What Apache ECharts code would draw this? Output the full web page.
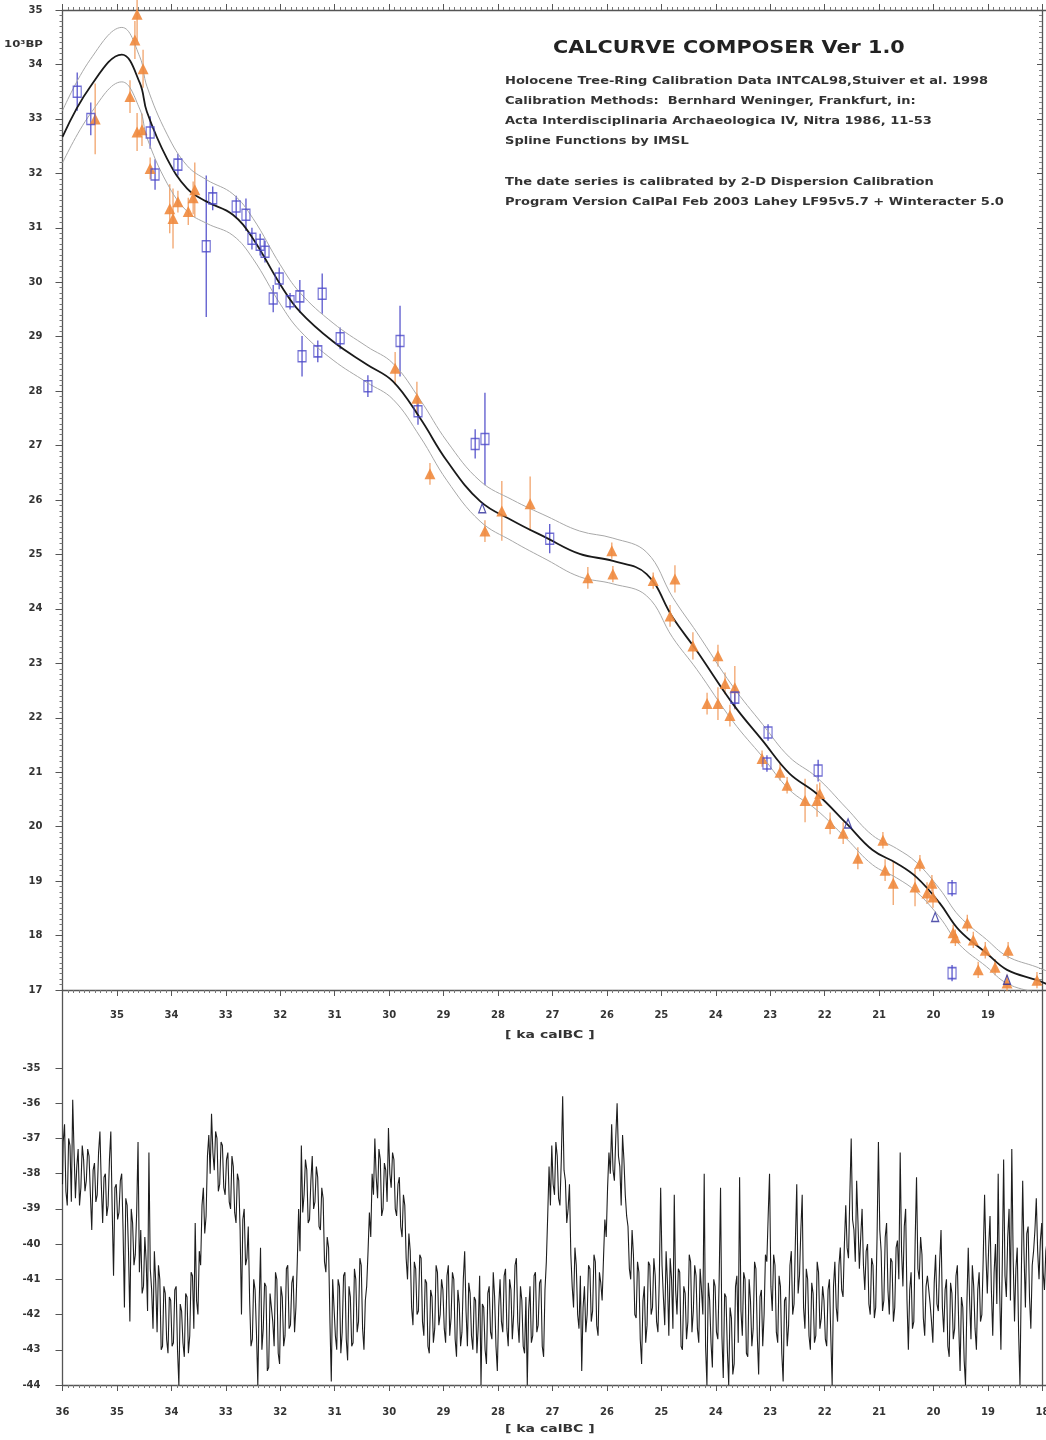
<!DOCTYPE html>
<html>
<head>
<meta charset="utf-8">
<title>CalCurve Composer</title>
<script src="https://cdn.jsdelivr.net/npm/echarts@6/dist/echarts.min.js"></script>
<style>
  html, body { margin: 0; padding: 0; background: #fff; }
  #chart { width: 1046px; height: 1440px; }
</style>
</head>
<body>
<div id="chart"></div>
<script>
// calibration curve, ka calBC -> 10^3 BP, with 1-sigma half width
const curveX = [36.0, 35.49, 34.91, 34.58, 34.45, 34.08, 33.71, 33.35, 32.87, 32.50, 32.00, 31.64, 31.03, 30.41, 29.93, 29.43, 28.94, 28.33, 27.73, 27.10,
  26.50, 25.89, 25.27, 24.79, 24.35, 23.69, 23.14, 22.65, 22.15, 21.60, 21.12, 20.68, 20.31, 19.89, 19.53, 19.03, 18.65, 18.10, 17.90]
const curveY = [32.67, 33.59, 34.18, 33.66, 33.13, 32.27, 31.72, 31.48, 31.24, 30.80, 29.96, 29.46, 28.91, 28.49, 28.18, 27.50, 26.72, 25.98, 25.62, 25.30,
  25.01, 24.88, 24.64, 23.84, 23.23, 22.26, 21.58, 20.98, 20.61, 20.06, 19.57, 19.33, 19.07, 18.60, 18.10, 17.68, 17.37, 17.18, 17.10]
const curveSig = [0.48, 0.50, 0.50, 0.48, 0.47, 0.45, 0.42, 0.40, 0.38, 0.37, 0.36, 0.35, 0.34, 0.33, 0.33, 0.34, 0.36, 0.37, 0.38, 0.40,
  0.42, 0.42, 0.40, 0.37, 0.34, 0.32, 0.30, 0.30, 0.30, 0.28, 0.27, 0.27, 0.27, 0.26, 0.26, 0.25, 0.25, 0.24, 0.24]

// dates shown as open squares
const blueX = [35.73, 35.48, 34.39, 34.30, 33.88, 33.24, 33.36, 32.81, 32.63, 32.52, 32.37, 32.28, 32.13, 32.02, 31.82, 31.64,
  31.60, 31.31, 31.23, 30.90, 30.39, 29.80, 29.47, 28.42, 28.24, 27.05, 23.65, 23.04, 23.06, 22.12, 19.66, 19.66]
const blueY = [33.50, 33.00, 32.75, 31.98, 32.16, 31.54, 30.66, 31.39, 31.24, 30.80, 30.69, 30.56, 29.70, 30.07, 29.65, 29.74,
  28.64, 28.73, 29.79, 28.97, 28.09, 28.92, 27.63, 27.03, 27.12, 25.29, 22.37, 21.73, 21.16, 21.03, 18.87, 17.31]
const blueErr = [0.35, 0.30, 0.30, 0.28, 0.20, 0.22, 1.30, 0.20, 0.30, 0.20, 0.20, 0.20, 0.25, 0.20, 0.15, 0.30,
  0.37, 0.20, 0.37, 0.20, 0.20, 0.65, 0.25, 0.27, 0.85, 0.27, 0.20, 0.15, 0.15, 0.20, 0.15, 0.15]

// dates shown as filled triangles
const orangeX = [35.40, 34.63, 34.67, 34.52, 34.76, 34.63, 34.54, 34.39, 34.03, 33.97, 33.88, 33.69, 33.57, 33.60,
  29.89, 29.49, 29.25, 28.24, 27.93, 27.41, 25.91, 26.35, 25.89, 25.15, 24.75, 24.84, 24.42, 23.96, 24.16, 23.96,
  23.83, 23.65, 23.74, 23.15, 22.82, 22.69, 22.36, 22.14, 22.09, 21.90, 21.66, 21.39, 20.93, 20.89, 20.74, 20.34,
  20.25, 20.12, 20.03, 20.01, 19.64, 19.60, 19.38, 19.27, 19.18, 19.05, 18.87, 18.63, 18.65, 18.10]
const orangeY = [33.00, 34.92, 34.45, 33.92, 33.41, 32.76, 32.80, 32.09, 31.35, 31.17, 31.48, 31.30, 31.70, 31.55,
  28.42, 27.87, 26.48, 25.43, 25.80, 25.93, 25.07, 24.57, 24.64, 24.52, 24.55, 23.87, 23.32, 23.14, 22.26, 22.26,
  22.63, 22.55, 22.04, 21.25, 21.00, 20.76, 20.48, 20.48, 20.61, 20.06, 19.88, 19.42, 19.75, 19.20, 18.96, 18.89,
  19.33, 18.78, 18.96, 18.71, 18.05, 17.96, 18.23, 17.92, 17.37, 17.73, 17.42, 17.73, 17.13, 17.18]
const orangeErr = [0.65, 0.50, 0.35, 0.35, 0.30, 0.35, 0.30, 0.20, 0.45, 0.55, 0.20, 0.25, 0.50, 0.30,
  0.30, 0.30, 0.20, 0.20, 0.55, 0.50, 0.15, 0.20, 0.15, 0.15, 0.25, 0.20, 0.25, 0.20, 0.20, 0.30,
  0.20, 0.40, 0.20, 0.15, 0.15, 0.15, 0.40, 0.30, 0.20, 0.20, 0.20, 0.20, 0.15, 0.20, 0.40, 0.35,
  0.15, 0.20, 0.15, 0.20, 0.15, 0.15, 0.15, 0.15, 0.15, 0.15, 0.15, 0.15, 0.15, 0.15]

// small open triangles
const markX = [28.29, 21.57, 19.97, 18.65]
const markY = [25.85, 20.06, 18.34, 17.19]

// lower panel: isotope record, one value every 0.025 ka from 36.000 ka (one row per ka)
const isoStart = 36
const isoStep = 0.025
const isoVals = [
  -38.3, -37.1, -36.6, -38.5, -38.9, -37.0, -37.2, -38.8, -35.9, -37.4, -38.7, -37.8, -37.3, -38.9, -38.4, -37.2, -37.6, -38.5, -38.2, -37.3,
  -37.5, -38.6, -39.6, -37.9, -37.7, -38.8, -38.6, -37.4, -36.8, -38.3, -39.4, -38.1, -38.0, -39.2, -38.9, -37.6, -36.8, -39.0, -40.9, -38.4,
  -38.3, -39.3, -39.1, -38.2, -38.0, -39.6, -41.8, -38.7, -38.9, -40.2, -42.2, -39.0, -39.4, -40.6, -40.3, -39.1, -37.1, -40.8, -39.6, -41.4,
  -41.2, -39.8, -40.5, -41.9, -37.4, -40.7, -41.3, -42.4, -40.2, -41.1, -42.5, -40.6, -41.0, -43.0, -42.9, -41.2, -41.4, -42.7, -43.1, -41.5,
  -41.6, -42.9, -42.8, -41.3, -41.2, -43.0, -44.0, -41.7, -41.9, -42.8, -43.2, -41.4, -41.5, -43.1, -42.6, -40.8, -40.9, -42.4, -39.4, -41.6,
  -42.0, -40.2, -40.6, -38.9, -38.4, -39.7, -39.2, -37.5, -36.9, -38.0, -36.3, -37.4, -37.9, -36.8, -37.0, -38.5, -38.3, -37.1, -37.2, -38.4,
  -38.6, -37.6, -37.4, -38.8, -39.0, -37.5, -37.8, -39.1, -39.4, -38.0, -38.2, -39.6, -42.0, -39.3, -39.0, -40.6, -40.4, -39.5, -41.6, -42.9,
  -42.7, -41.0, -41.3, -42.5, -44.0, -41.7, -40.1, -43.0, -42.4, -41.1, -41.2, -43.6, -43.5, -41.4, -41.8, -42.2, -42.9, -40.8, -41.0, -43.1,
  -43.4, -41.2, -41.5, -42.9, -42.6, -40.7, -40.6, -42.4, -42.3, -41.1, -40.9, -42.5, -41.8, -40.5, -39.0, -40.2, -37.2, -39.1, -38.6, -37.6,
  -37.9, -39.4, -39.3, -38.2, -37.5, -39.0, -38.8, -37.8, -38.1, -39.5, -39.6, -38.4, -38.7, -40.5, -40.8, -39.8, -40.1, -42.2, -43.9, -41.0,
  -41.8, -42.6, -43.0, -41.0, -41.2, -43.1, -42.5, -40.9, -40.8, -42.7, -43.3, -41.2, -41.5, -42.9, -42.8, -40.7, -41.0, -42.5, -42.2, -40.4,
  -40.6, -42.4, -43.0, -41.6, -41.2, -40.2, -39.1, -39.8, -38.0, -38.6, -37.0, -38.1, -38.7, -37.3, -37.6, -39.2, -39.0, -37.7, -37.9, -38.8,
  -36.7, -38.0, -38.4, -37.4, -37.6, -39.0, -39.2, -38.3, -38.1, -39.5, -39.8, -38.6, -38.9, -40.4, -41.0, -39.7, -40.2, -41.8, -42.3, -40.5,
  -40.7, -42.0, -41.9, -40.3, -40.4, -42.2, -42.6, -41.0, -41.1, -42.9, -43.1, -41.3, -41.5, -42.8, -42.4, -40.6, -40.8, -42.3, -42.0, -41.0,
  -41.3, -42.4, -42.8, -40.9, -40.6, -42.6, -42.1, -40.8, -41.0, -42.7, -43.2, -41.3, -41.7, -42.9, -42.5, -41.0, -40.2, -41.9, -42.9, -41.1,
  -41.4, -42.6, -43.0, -41.5, -41.6, -43.1, -42.3, -40.9, -44.0, -41.7, -41.8, -43.0, -43.4, -41.4, -41.2, -42.5, -42.7, -40.8, -41.5, -42.9,
  -43.6, -41.8, -41.0, -42.2, -42.5, -40.9, -40.7, -42.4, -42.9, -41.0, -41.3, -42.7, -42.0, -40.6, -40.4, -42.2, -42.8, -41.2, -41.6, -42.9,
  -43.1, -41.5, -44.0, -41.9, -41.2, -42.8, -42.6, -40.9, -40.8, -42.5, -42.3, -41.1, -41.0, -42.9, -43.2, -41.3, -40.5, -39.2, -37.8, -38.9,
  -37.2, -38.3, -38.6, -37.1, -37.5, -38.7, -38.9, -37.6, -35.8, -37.9, -38.2, -39.4, -39.0, -38.3, -40.3, -41.2, -41.8, -40.1, -40.6, -42.0,
  -42.4, -40.9, -43.6, -41.8, -41.2, -42.5, -42.0, -40.6, -40.7, -42.2, -41.9, -40.3, -40.5, -42.3, -42.6, -40.8, -41.1, -41.6, -40.4, -39.3,
  -39.8, -38.4, -37.4, -38.0, -36.6, -37.9, -38.2, -37.0, -36.0, -37.5, -37.8, -38.9, -36.9, -37.6, -38.6, -39.2, -39.5, -40.7, -41.0, -39.6,
  -40.3, -42.0, -42.1, -40.5, -40.8, -42.7, -43.4, -41.6, -41.2, -42.8, -42.3, -40.5, -40.6, -42.0, -41.8, -40.4, -40.9, -42.2, -42.5, -41.0,
  -38.4, -40.6, -41.5, -42.3, -40.2, -41.1, -42.6, -40.4, -41.0, -42.4, -38.6, -41.3, -42.0, -40.7, -40.8, -42.9, -43.0, -41.2, -41.4, -42.7,
  -42.2, -40.3, -40.5, -42.5, -41.9, -40.6, -40.9, -42.4, -42.8, -40.7, -41.3, -42.0, -38.0, -42.9, -44.0, -41.1, -41.6, -42.8, -43.5, -41.0,
  -41.2, -42.5, -42.7, -41.0, -38.4, -42.6, -43.8, -41.4, -41.5, -43.0, -44.0, -41.8, -42.1, -43.7, -43.4, -41.2, -40.9, -42.8, -38.1, -41.9,
  -42.6, -40.8, -41.0, -43.1, -43.2, -41.0, -41.6, -42.9, -42.4, -40.5, -40.7, -42.6, -43.7, -41.5, -41.3, -42.9, -42.0, -40.3, -40.5, -39.2,
  -38.0, -41.2, -41.9, -40.3, -40.6, -42.5, -42.8, -40.9, -41.2, -43.1, -43.9, -41.6, -41.5, -42.9, -42.3, -40.6, -40.2, -42.0, -41.7, -39.9,
  -38.3, -41.4, -40.9, -39.6, -38.6, -41.8, -42.4, -40.7, -41.0, -42.6, -43.0, -41.1, -41.4, -42.8, -42.6, -40.5, -40.8, -42.4, -42.1, -41.2,
  -41.6, -42.7, -42.9, -41.3, -41.0, -42.6, -44.0, -41.2, -40.5, -41.8, -42.2, -40.6, -40.1, -41.3, -41.5, -40.0, -38.9, -40.1, -40.4, -38.6,
  -37.0, -39.3, -39.6, -40.5, -38.2, -39.4, -40.7, -39.8, -39.0, -40.6, -41.3, -40.2, -40.0, -41.7, -42.0, -40.4, -40.6, -42.1, -41.8, -39.8,
  -37.1, -39.6, -40.2, -41.9, -41.6, -39.8, -39.4, -41.3, -42.0, -40.4, -40.5, -42.2, -41.8, -40.1, -39.9, -41.0, -37.4, -40.2, -41.2, -39.5,
  -39.0, -41.6, -43.0, -41.3, -40.8, -42.4, -42.2, -39.9, -38.1, -40.7, -41.0, -39.8, -40.3, -42.1, -42.6, -41.2, -40.9, -41.3, -41.7, -42.2,
  -42.8, -41.1, -40.3, -41.7, -41.9, -40.5, -39.6, -41.8, -42.5, -41.3, -41.0, -42.9, -43.2, -41.1, -41.4, -42.7, -42.4, -40.9, -40.6, -42.3,
  -43.6, -41.5, -41.8, -43.3, -44.0, -41.7, -40.1, -41.6, -42.7, -40.6, -41.2, -42.4, -43.0, -41.3, -40.8, -42.2, -42.0, -40.4, -38.6, -40.3,
  -41.4, -40.1, -39.2, -41.3, -42.6, -40.8, -40.0, -41.7, -38.0, -41.2, -43.0, -40.6, -37.6, -40.9, -41.5, -39.8, -39.0, -41.6, -37.3, -40.4,
  -42.2, -40.7, -40.1, -42.5, -44.0, -40.9, -38.2, -40.3, -41.8, -39.7, -39.5, -41.5, -42.4, -40.6, -40.2, -39.6, -38.7, -40.2, -41.0, -39.9,
  -39.4, -40.8, -41.3, -40.2, -39.9
]
const isoTicks = [-44, -43, -42, -41, -40, -39, -38, -37, -36, -35]

const headerTitle = 'CALCURVE COMPOSER Ver 1.0'
const headerLines = [
  'Holocene Tree-Ring Calibration Data INTCAL98,Stuiver et al. 1998',
  'Calibration Methods:  Bernhard Weninger, Frankfurt, in:',
  'Acta Interdisciplinaria Archaeologica IV, Nitra 1986, 11-53',
  'Spline Functions by IMSL',
  '',
  'The date series is calibrated by 2-D Dispersion Calibration',
  'Program Version CalPal Feb 2003 Lahey LF95v5.7 + Winteracter 5.0'
]

const chart = echarts.init(document.getElementById('chart'))

// layout: 54.44 px per ka on both panels, axis 17..36 runs past the right edge
const pxKa = 54.44
const gridLeft = 62.5
const gridWidth = 19 * pxKa
const rightBorder = 1042
const rightOffset = rightBorder - (gridLeft + gridWidth)

const labelFont = { color: '#333', fontSize: 10, fontWeight: 'bold', fontFamily: 'DejaVu Sans' }
const lineCol = '#555'

const errBar = (color, width) => (params, api) => {
  const a = api.coord([api.value(0), api.value(1) + api.value(2)])
  const b = api.coord([api.value(0), api.value(1) - api.value(2)])
  return {
    type: 'line',
    shape: { x1: a[0], y1: a[1], x2: b[0], y2: b[1] },
    style: { stroke: color, lineWidth: width }
  }
}

const kaAxis = (grid, pos, fmt, margin) => ({
  type: 'value', gridIndex: grid, position: pos,
  min: 17, max: 36, interval: 1, inverse: true,
  axisLine: { onZero: false, lineStyle: { color: lineCol, width: 1.3 } },
  axisTick: { length: 6, lineStyle: { color: lineCol } },
  minorTick: { show: true, splitNumber: 10, length: 3, lineStyle: { color: '#777' } },
  splitLine: { show: false },
  axisLabel: fmt ? { ...labelFont, margin: margin, formatter: fmt } : { show: false }
})

const option = {
  animation: false,
  backgroundColor: '#fff',
  grid: [
    { left: gridLeft, top: 10, width: gridWidth, height: 980, outerBoundsMode: 'none', containLabel: false },
    { left: gridLeft, top: 990, width: gridWidth, height: 395, outerBoundsMode: 'none', containLabel: false }
  ],
  xAxis: [
    kaAxis(0, 'bottom', v => (v >= 19 && v <= 35 ? String(v) : ''), 20),
    kaAxis(0, 'top', null, 0),
    kaAxis(1, 'bottom', v => (v >= 18 ? String(v) : ''), 22)
  ],
  yAxis: [
    {
      type: 'value', gridIndex: 0, position: 'left', min: 17, max: 35, interval: 1,
      axisLine: { show: true, lineStyle: { color: lineCol, width: 1.3 } },
      axisTick: { length: 7, lineStyle: { color: lineCol } },
      minorTick: { show: true, splitNumber: 10, length: 3, lineStyle: { color: '#777' } },
      splitLine: { show: false },
      axisLabel: { ...labelFont, margin: 20 }
    },
    {
      type: 'value', gridIndex: 0, position: 'right', offset: rightOffset, min: 17, max: 35, interval: 1,
      axisLine: { show: true, lineStyle: { color: lineCol, width: 1.3 } },
      axisTick: { show: true, inside: true, length: 5, lineStyle: { color: lineCol } },
      minorTick: { show: true, splitNumber: 10, length: 3, lineStyle: { color: '#888' } },
      splitLine: { show: false },
      axisLabel: { show: false }
    },
    {
      type: 'value', gridIndex: 1, position: 'left', min: -44, max: -44 + 395 / 35.22,
      axisLine: { show: true, onZero: false, lineStyle: { color: lineCol, width: 1.3 } },
      axisTick: { length: 7, customValues: isoTicks, lineStyle: { color: lineCol } },
      splitLine: { show: false },
      axisLabel: { ...labelFont, margin: 22, customValues: isoTicks }
    },
    {
      type: 'value', gridIndex: 1, position: 'right', offset: rightOffset, min: -44, max: -44 + 395 / 35.22,
      axisLine: { show: true, onZero: false, lineStyle: { color: lineCol, width: 1.3 } },
      axisTick: { show: false }, splitLine: { show: false }, axisLabel: { show: false }
    }
  ],
  series: [
    {
      type: 'line', xAxisIndex: 0, yAxisIndex: 0, smooth: 0.4, symbol: 'none',
      data: curveX.map((x, i) => [x, curveY[i] + curveSig[i]]),
      lineStyle: { color: '#a8a8a8', width: 1 }
    },
    {
      type: 'line', xAxisIndex: 0, yAxisIndex: 0, smooth: 0.4, symbol: 'none',
      data: curveX.map((x, i) => [x, curveY[i] - curveSig[i]]),
      lineStyle: { color: '#a8a8a8', width: 1 }
    },
    {
      type: 'custom', xAxisIndex: 0, yAxisIndex: 0, renderItem: errBar('rgba(238,140,70,0.8)', 1.3),
      encode: { x: 0, y: 1 }, data: orangeX.map((x, i) => [x, orangeY[i], orangeErr[i]]), z: 3
    },
    {
      type: 'custom', xAxisIndex: 0, yAxisIndex: 0, renderItem: errBar('#4b48c8', 1.2),
      encode: { x: 0, y: 1 }, data: blueX.map((x, i) => [x, blueY[i], blueErr[i]]), z: 3
    },
    {
      type: 'line', xAxisIndex: 0, yAxisIndex: 0, smooth: 0.4, symbol: 'none',
      data: curveX.map((x, i) => [x, curveY[i]]),
      lineStyle: { color: '#1a1a1a', width: 1.8 }, z: 4
    },
    {
      type: 'scatter', xAxisIndex: 0, yAxisIndex: 0, symbol: 'triangle', symbolSize: 11,
      data: orangeX.map((x, i) => [x, orangeY[i]]),
      itemStyle: { color: '#ef8a3e', opacity: 0.9 }, z: 5
    },
    {
      type: 'scatter', xAxisIndex: 0, yAxisIndex: 0, symbol: 'rect', symbolSize: [8, 11],
      data: blueX.map((x, i) => [x, blueY[i]]),
      itemStyle: { color: 'rgba(255,255,255,0)', borderColor: '#4b48c8', borderWidth: 1.3 }, z: 6
    },
    {
      type: 'scatter', xAxisIndex: 0, yAxisIndex: 0, symbol: 'triangle', symbolSize: [7, 9],
      data: markX.map((x, i) => [x, markY[i]]),
      itemStyle: { color: 'rgba(255,255,255,0)', borderColor: '#2a2a99', borderWidth: 1.3 }, z: 6
    },
    {
      type: 'line', xAxisIndex: 2, yAxisIndex: 2, symbol: 'none', step: 'middle',
      data: isoVals.map((v, i) => [isoStart - i * isoStep, v]),
      lineStyle: { color: '#1e1e1e', width: 1.1 }
    }
  ],
  graphic: [
    {
      type: 'text', x: 553, y: 40, scaleX: 1.22,
      style: { text: headerTitle, fill: '#222', font: 'bold 17px "DejaVu Sans"' }
    },
    {
      type: 'text', x: 505, y: 71, scaleX: 1.24,
      style: { text: headerLines.join('\n'), fill: '#333', font: 'bold 10.5px "DejaVu Sans"', lineHeight: 20.2 }
    },
    {
      type: 'text', x: 4, y: 40, scaleX: 1.3,
      style: { text: '10³BP', fill: '#333', font: 'bold 9px "DejaVu Sans"' }
    },
    {
      type: 'text', x: 505, y: 1030, scaleX: 1.4,
      style: { text: '[ ka calBC ]', fill: '#333', font: 'bold 10px "DejaVu Sans"' }
    },
    {
      type: 'text', x: 505, y: 1424, scaleX: 1.4,
      style: { text: '[ ka calBC ]', fill: '#333', font: 'bold 10px "DejaVu Sans"' }
    }
  ]
}

chart.setOption(option)
</script>
</body>
</html>
